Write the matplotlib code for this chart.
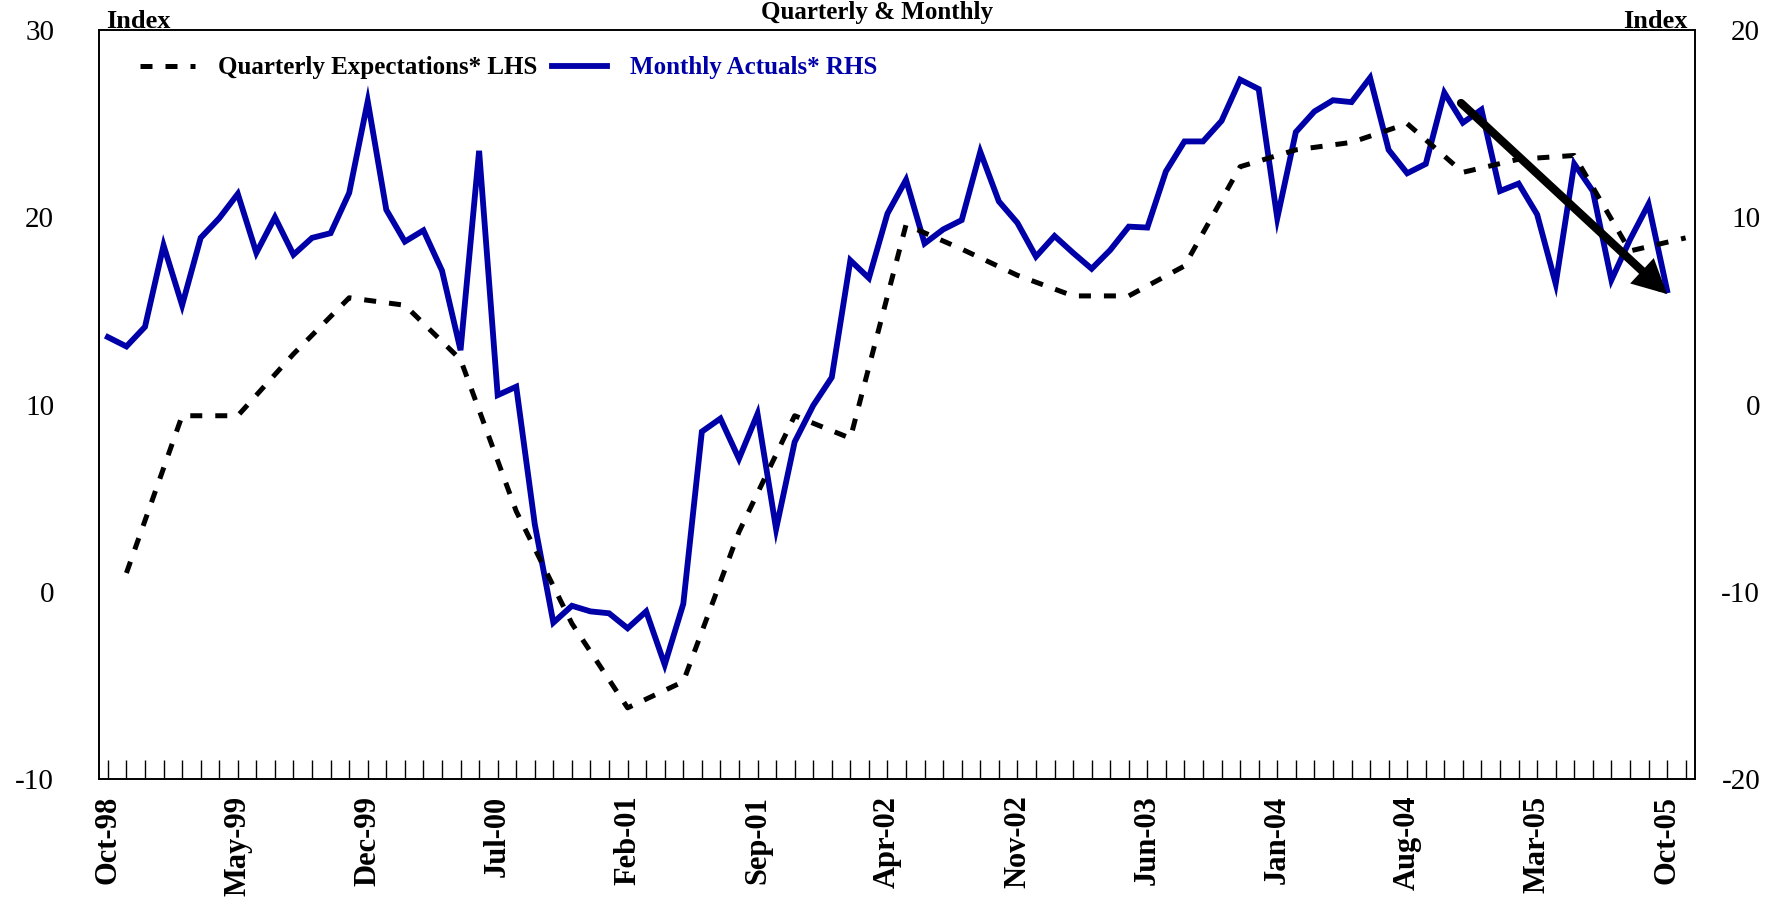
import numpy as np
import matplotlib
matplotlib.use('Agg')
import matplotlib.pyplot as plt
from matplotlib.ticker import FixedLocator

plt.rcParams['axes.unicode_minus'] = False

# 월별 실적 (RHS), Oct-98 ~ Oct-05
monthly_actuals = [3.6, 3.1, 4.15, 8.5, 5.3, 8.9, 9.95, 11.25, 8.1, 10.0,
                   8.0, 8.9, 9.15, 11.3, 16.2, 10.4, 8.7, 9.3, 7.15, 2.9,
                   13.55, 0.5, 0.95, -6.4, -11.65, -10.75, -11.05, -11.15, -11.95, -11.05,
                   -13.9, -10.65, -1.45, -0.75, -2.9, -0.5, -6.65, -2.0, -0.05, 1.45,
                   7.7, 6.75, 10.2, 12.0, 8.6, 9.35, 9.85, 13.5, 10.85, 9.7,
                   7.9, 9.0, 8.1, 7.25, 8.25, 9.5, 9.45, 12.45, 14.05, 14.05,
                   15.15, 17.35, 16.85, 9.95, 14.55, 15.65, 16.25, 16.15, 17.45, 13.6,
                   12.35, 12.85, 16.65, 15.05, 15.75, 11.4, 11.8, 10.15, 6.45, 12.85,
                   11.4, 6.65, 8.8, 10.7, 6.1]

# 분기별 기대치 (LHS), Nov-98 ~ Nov-05, 3개월 간격
quarterly_expectations = [1.0, 9.4, 9.4, 12.7, 15.7, 15.3, 12.4, 4.3, -1.7, -6.2,
                          -4.8, 3.2, 9.4, 8.2, 19.6, 18.3, 16.9, 15.8, 15.8, 17.4,
                          22.7, 23.6, 24.0, 25.0, 22.4, 23.1, 23.3, 18.2, 18.9]

tick_labels = ['Oct-98', 'May-99', 'Dec-99', 'Jul-00', 'Feb-01', 'Sep-01', 'Apr-02',
               'Nov-02', 'Jun-03', 'Jan-04', 'Aug-04', 'Mar-05', 'Oct-05']

n_months = 86
x_month = np.arange(len(monthly_actuals))
x_quarter = np.arange(1, n_months, 3)

serif = 'Liberation Serif'
blue = '#0000A8'

fig = plt.figure(figsize=(17.86, 8.99), dpi=100)
ax = fig.add_axes([0.0552, 0.1335, 0.8938, 0.8331])
ax2 = ax.twinx()

# 1. 월별 실적 (오른쪽 축)
ax2.plot(x_month, monthly_actuals, color=blue, lw=4.2, solid_joinstyle='miter',
         label='Monthly Actuals* RHS')
ax2.set_ylim(-20, 20)
ax2.set_yticks([-20, -10, 0, 10, 20])

# 2. 분기별 기대치 (왼쪽 축, 위에 그림)
ax.set_zorder(ax2.get_zorder() + 1)
ax.patch.set_visible(False)
ax.plot(x_quarter, quarterly_expectations, color='black', lw=3.6,
        dashes=(2.4, 2.6), dash_capstyle='butt', label='Quarterly Expectations* LHS')
ax.set_ylim(-10, 30)
ax.set_yticks([-10, 0, 10, 20, 30])
ax.set_xlim(-0.5, n_months - 0.5)

# 추세 화살표
ax.annotate('', xy=(84.0, 15.9), xytext=(72.9, 26.1),
            arrowprops=dict(arrowstyle='-|>,head_length=0.75,head_width=0.38',
                            lw=6.0, color='black', mutation_scale=20,
                            joinstyle='miter', shrinkA=0, shrinkB=0))

# x축 눈금
ax.xaxis.set_major_locator(FixedLocator(np.arange(0, 85, 7)))
ax.xaxis.set_minor_locator(FixedLocator(np.arange(n_months)))
ax.set_xticklabels(tick_labels, rotation=90, fontfamily=serif, fontweight='bold',
                   fontsize=22, va='top', ha='center')
ax.tick_params(axis='x', which='both', direction='in', length=13.5, width=1.0, pad=12)
ax2.tick_params(axis='x', which='both', length=0)

# y축 눈금
ax.tick_params(axis='y', length=0, pad=32, labelsize=21)
for t in ax.get_yticklabels():
    t.set_fontfamily(serif)
ax2.tick_params(axis='y', length=0, pad=47, labelsize=21)
for t in ax2.get_yticklabels():
    t.set_fontfamily(serif)
    t.set_ha('right')

for a in (ax, ax2):
    for s in a.spines.values():
        s.set_linewidth(1.2)
        s.set_color('black')

# 범례
h1, l1 = ax.get_legend_handles_labels()
h2, l2 = ax2.get_legend_handles_labels()
leg = ax.legend(h1 + h2, l1 + l2, ncol=2, frameon=False, loc='upper left',
                bbox_to_anchor=(0.012, 0.995), handlelength=2.2, columnspacing=0.6,
                handletextpad=0.9, prop=dict(family=serif, weight='bold', size=18))
leg.get_texts()[1].set_color(blue)

# 축 제목
fig.text(106 / 1786, 1 - 28 / 899, 'Index', fontfamily=serif, fontweight='bold',
         fontsize=19, ha='left', va='baseline')
fig.text(1688 / 1786, 1 - 28 / 899, 'Index', fontfamily=serif, fontweight='bold',
         fontsize=19, ha='right', va='baseline')
fig.text(877 / 1786, 1 - 19 / 899, 'Quarterly & Monthly', fontfamily=serif,
         fontweight='bold', fontsize=18, ha='center', va='baseline')

fig.savefig('out.png', dpi=100)
